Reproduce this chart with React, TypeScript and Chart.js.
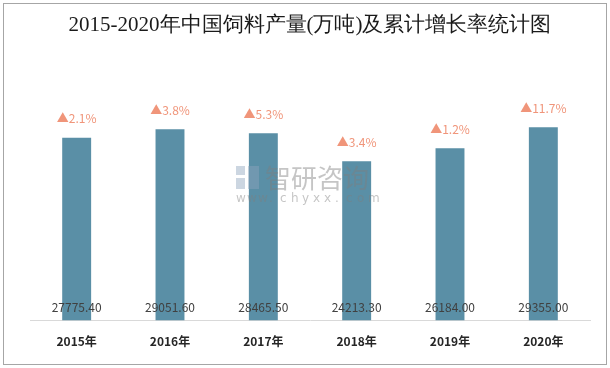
import React, { useEffect, useRef } from "react";
import { Chart, registerables } from "chart.js";

Chart.register(...registerables);

const categories = ["2015年", "2016年", "2017年", "2018年", "2019年", "2020年"];
const production = [27775.4, 29051.6, 28465.5, 24213.3, 26184.0, 29355.0];
const growthLabels = ["2.1%", "3.8%", "5.3%", "3.4%", "1.2%", "11.7%"];
const titleText = "2015-2020年中国饲料产量(万吨)及累计增长率统计图";

const labelPlugin = {
  id: "barLabels",
  afterDatasetsDraw(chart: any) {
    const ctx = chart.ctx;
    const meta = chart.getDatasetMeta(0);
    ctx.save();
    meta.data.forEach((bar: any, i: number) => {
      const x = bar.x;
      ctx.font = "12px 'Noto Sans CJK SC', 'Noto Sans', sans-serif";
      ctx.fillStyle = "#404040";
      ctx.textAlign = "center";
      ctx.textBaseline = "middle";
      ctx.fillText(production[i].toFixed(2), x, chart.chartArea.bottom - 13);
      ctx.fillStyle = "#f0957a";
      ctx.fillText("▲" + growthLabels[i], x, bar.y - 19);
    });
    // watermark
    const cx = (chart.chartArea.left + chart.chartArea.right) / 2;
    ctx.globalAlpha = 0.45;
    ctx.fillStyle = "#8fa3bd";
    ctx.fillRect(cx - 74, 166, 9, 9);
    ctx.fillRect(cx - 74, 178, 9, 11);
    ctx.fillRect(cx - 62, 166, 11, 23);
    ctx.fillStyle = "#7f7f7f";
    ctx.textAlign = "left";
    ctx.textBaseline = "middle";
    ctx.font = "26px 'Noto Sans CJK SC', sans-serif";
    ctx.fillText("智研咨询", cx - 45, 178);
    ctx.font = "12px 'DejaVu Sans', sans-serif";
    const w = "www.chyxx.com";
    let px = cx - 74;
    for (const ch of w) {
      ctx.fillText(ch, px, 199);
      px += 11;
    }
    ctx.restore();
  },
};

export default function App() {
  const ref = useRef<HTMLCanvasElement>(null);
  useEffect(() => {
    document.body.style.margin = "0";
    const chart = new Chart(ref.current!, {
      type: "bar",
      data: {
        labels: categories,
        datasets: [
          {
            data: production,
            backgroundColor: "#5a8fa6",
            borderWidth: 0,
            categoryPercentage: 1,
            barPercentage: 0.31,
          },
        ],
      },
      options: {
        responsive: false,
        animation: false,
        layout: { padding: { left: 30, right: 20, top: 0, bottom: 5 } },
        plugins: {
          legend: { display: false },
          tooltip: { enabled: false },
          title: {
            display: true,
            text: titleText,
            color: "#1a1a1a",
            font: { size: 21, family: "'Liberation Serif', serif", weight: "normal" },
            padding: { top: 13, bottom: 19 },
          },
        },
        scales: {
          x: {
            grid: { display: false, drawTicks: false },
            border: { display: true, color: "#d9d9d9", width: 1 },
            ticks: {
              color: "#262626",
              padding: 14,
              font: { size: 12, weight: "bold", family: "'Noto Sans CJK SC', sans-serif" },
            },
          },
          y: { display: false, min: 0, max: 40000 },
        },
      },
      plugins: [labelPlugin],
    });
    return () => chart.destroy();
  }, []);
  return (
    <div style={{ position: "relative", width: 610, height: 368, background: "#fff" }}>
      <canvas ref={ref} width={610} height={368} style={{ position: "absolute", left: 0, top: 0 }} />
      <div
        style={{
          position: "absolute",
          left: 3,
          top: 3,
          width: 602,
          height: 360,
          border: "1px solid #a6a6a6",
          pointerEvents: "none",
        }}
      />
    </div>
  );
}
